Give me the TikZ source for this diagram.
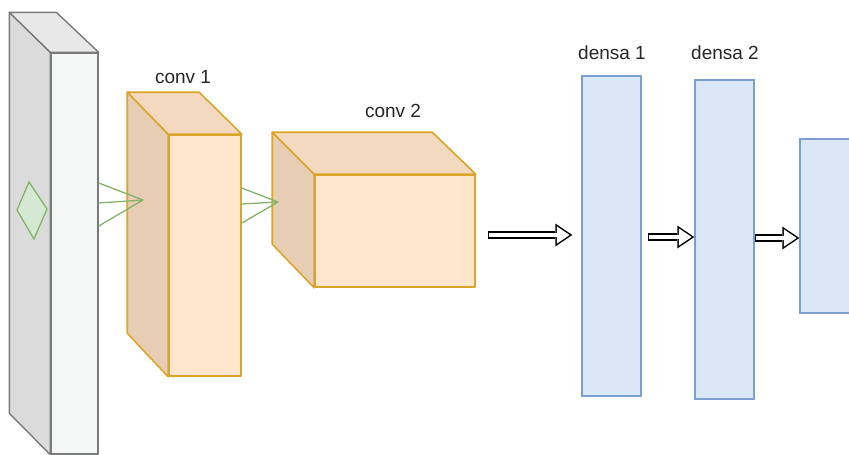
\documentclass[tikz,border=0pt]{standalone}
\usepackage{fontspec}
\setmainfont{Liberation Sans}
\usetikzlibrary{arrows.meta,calc}

\definecolor{inline}{HTML}{7A7A7A}
\definecolor{infront}{HTML}{F5F6F6}
\definecolor{inside}{HTML}{DCDBDB}
\definecolor{intop}{HTML}{E8E8E8}
\definecolor{orline}{HTML}{DBA52A}
\definecolor{orfront}{HTML}{FFE6CC}
\definecolor{orside}{HTML}{E6CDB3}
\definecolor{ortop}{HTML}{F2D9BF}
\definecolor{blline}{HTML}{7D9FCF}
\definecolor{blfill}{HTML}{DAE7F6}
\definecolor{grline}{HTML}{82B366}
\definecolor{grfill}{HTML}{D5E8D4}

\tikzset{
  inface/.style={draw=inline, line width=1.4pt, line join=round},
  orface/.style={draw=orline, line width=1.6pt, line join=round},
  dense/.style={draw=blline, fill=blfill, line width=1.4pt, inner sep=0pt},
  kernel/.style={draw=grline, line width=1.3pt},
  lbl/.style={font=\fontsize{19}{22}\selectfont, text=black!85},
  flow/.style={line width=7.4pt, -{Triangle[length=17pt,width=23pt,line width=0pt]},
    postaction={draw=white, line width=4.4pt, shorten <=1.5pt, shorten >=2.7pt,
      -{Triangle[length=12.8pt,width=17.3pt,line width=0pt]}}}
}

\begin{document}
\begin{tikzpicture}[x=1pt,y=-1pt]
\useasboundingbox (0,0) rectangle (849,455);
\clip (0,0) rectangle (849,455);

% input
\node[inface, fill=infront, minimum width=47pt, minimum height=401pt, inner sep=0pt] (in) at (74.5,253.5) {};
\draw[inface, fill=inside] (in.north west) -- ++(-41,-40) -- ++(0,401) -- (in.south west) -- cycle;
\draw[inface, fill=intop] (in.north west) -- ++(-41,-40) -- ++(47,0) -- (in.north east) -- cycle;
\draw[kernel, fill=grfill] (29,182) -- (47,209) -- (34,239) -- (17,210) -- cycle;

% conv 1
\node[orface, fill=orfront, minimum width=72pt, minimum height=241pt, inner sep=0pt] (c1) at (205,255.5) {};
\draw[orface, fill=orside] (c1.north west) -- ++(-41,-42) -- ++(0,241) -- (c1.south west) -- cycle;
\draw[orface, fill=ortop] (c1.north west) -- ++(-41,-42) -- ++(72,0) -- (c1.north east) -- cycle;
\node[lbl] (l1) at (183,77) {conv 1};

% conv 2
\node[orface, fill=orfront, minimum width=160pt, minimum height=112pt, inner sep=0pt] (c2) at (395,231) {};
\draw[orface, fill=orside] (c2.north west) -- ++(-42,-42) -- ++(0,112) -- (c2.south west) -- cycle;
\draw[orface, fill=ortop] (c2.north west) -- ++(-42,-42) -- ++(160,0) -- (c2.north east) -- cycle;
\node[lbl] (l2) at (393,111) {conv 2};

% kernels
\coordinate (k1) at (143,200);
\coordinate (k2) at (278,202);
\draw[kernel] ($(in.east)+(0,-70.5)$) -- (k1);
\draw[kernel] ($(in.east)+(0,-50.5)$) -- (k1);
\draw[kernel] ($(in.east)+(0,-27.5)$) -- (k1);
\draw[kernel] ($(c1.east)+(0,-67.5)$) -- (k2);
\draw[kernel] ($(c1.east)+(0,-51.5)$) -- (k2);
\draw[kernel] ($(c1.east)+(0,-32.5)$) -- (k2);

% dense layers
\node[dense, minimum width=59pt, minimum height=320pt] (d1) at (611.5,236) {};
\node[dense, minimum width=59pt, minimum height=319pt] (d2) at (724.5,239.5) {};
\node[dense, minimum width=60pt, minimum height=174pt] (out) at (830,226) {};
\node[lbl] (l3) at (612,53) {densa 1};
\node[lbl] (l4) at (725,53) {densa 2};

% flow
\draw[flow] ($(c2.east)+(12,4)$) -- ($(d1.west)+(-9,-1)$);
\draw[flow] ($(d1.east)+(6,1)$) -- ($(d2.west)+(0,-2.5)$);
\draw[flow] ($(d2.east)+(0,-1.5)$) -- ($(out.west)+(0,12)$);

\end{tikzpicture}
\end{document}
